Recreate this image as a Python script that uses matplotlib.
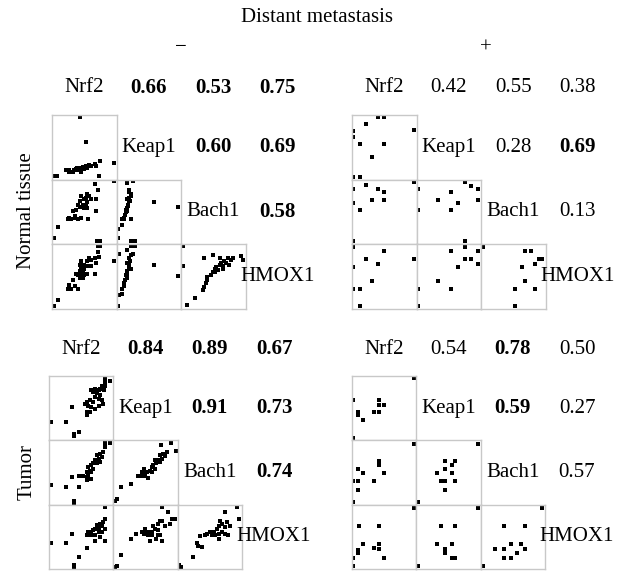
import matplotlib.pyplot as plt

genes = ["Nrf2", "Keap1", "Bach1", "HMOX1"]

# Spearman-type coefficients, upper triangle (row by row)
r_normal_neg = [[0.66, 0.53, 0.75], [0.60, 0.69], [0.58]]
r_normal_pos = [[0.42, 0.55, 0.38], [0.28, 0.69], [0.13]]
r_tumor_neg = [[0.84, 0.89, 0.67], [0.91, 0.73], [0.74]]
r_tumor_pos = [[0.54, 0.78, 0.50], [0.59, 0.27], [0.57]]

# significant coefficients shown in bold
sig_normal_neg = [[1, 1, 1], [1, 1], [1]]
sig_normal_pos = [[0, 0, 0], [0, 1], [0]]
sig_tumor_neg = [[1, 1, 1], [1, 1], [1]]
sig_tumor_pos = [[0, 1, 0], [1, 0], [0]]

# scatter values, rescaled to 0..1 per gene (x = column gene, y = row gene)
nn_keap1_nrf2 = [(.44, .97), (.53, .58), (.96, .26), (.74, .28), (.73, .06), (.03, .05), (.07, .05),
                 (.22, .14), (.26, .12), (.30, .12), (.32, .12), (.34, .14), (.37, .16), (.40, .14),
                 (.43, .18), (.45, .16), (.45, .12), (.48, .19), (.50, .17), (.53, .21), (.55, .18),
                 (.58, .23), (.61, .21), (.66, .24), (.68, .21), (.39, .18), (.27, .14)]
nn_bach1_nrf2 = [(.96, .97), (.66, .93), (.71, .84), (.55, .77), (.45, .74), (.53, .72), (.58, .74),
                 (.50, .70), (.61, .70), (.68, .70), (.43, .66), (.55, .65), (.40, .61), (.48, .61),
                 (.53, .60), (.43, .58), (.50, .56), (.55, .56), (.68, .51), (.32, .51), (.37, .53),
                 (.27, .41), (.25, .38), (.30, .39), (.35, .40), (.40, .39), (.45, .41), (.35, .44),
                 (.56, .39), (.09, .27), (.03, .10), (.70, .04), (.74, .04)]
nn_bach1_keap1 = [(.17, .95), (.25, .97), (.20, .84), (.22, .77), (.20, .71), (.17, .69), (.21, .66),
                  (.18, .61), (.16, .56), (.15, .53), (.17, .51), (.13, .45), (.11, .41), (.09, .38),
                  (.12, .39), (.08, .30), (.22, .39), (.03, .24), (.58, .65), (.95, .58), (.03, .10),
                  (.22, .05), (.28, .04), (.19, .81), (.22, .74), (.20, .66), (.18, .59), (.15, .49)]
nn_hmox1_nrf2 = [(.96, .74), (.71, .88), (.73, .80), (.66, .78), (.58, .79), (.55, .74), (.61, .75),
                 (.68, .70), (.45, .74), (.43, .68), (.50, .67), (.55, .66), (.61, .66), (.45, .63),
                 (.50, .61), (.37, .54), (.43, .58), (.48, .58), (.40, .52), (.45, .52), (.50, .52),
                 (.43, .48), (.48, .47), (.66, .53), (.55, .54), (.32, .44), (.27, .36), (.25, .31),
                 (.30, .31), (.40, .31), (.35, .35), (.09, .13), (.03, .04), (.71, .97), (.74, .97)]
nn_hmox1_keap1 = [(.04, .85), (.17, .91), (.22, .83), (.20, .78), (.21, .73), (.17, .70), (.20, .67),
                  (.19, .62), (.16, .58), (.17, .54), (.15, .52), (.16, .47), (.13, .44), (.12, .39),
                  (.11, .35), (.09, .31), (.08, .23), (.04, .21), (.03, .04), (.58, .68), (.95, .51),
                  (.28, .97), (.25, .85), (.22, .62), (.22, .97)]
nn_hmox1_bach1 = [(.03, .97), (.03, .66), (.10, .05), (.21, .16), (.34, .28), (.36, .34), (.39, .39),
                  (.40, .44), (.41, .49), (.47, .52), (.49, .57), (.52, .62), (.54, .65), (.57, .60),
                  (.60, .67), (.62, .70), (.65, .66), (.67, .73), (.70, .70), (.73, .78), (.75, .67),
                  (.78, .75), (.80, .78), (.49, .83), (.36, .79), (.60, .78), (.93, .82), (.96, .75),
                  (.65, .62), (.52, .57)]

np_keap1_nrf2 = [(.41, .97), (.49, .97), (.21, .86), (.02, .75), (.96, .76), (.02, .66), (.125, .55),
                 (.49, .55), (.31, .35), (.02, .04), (.125, .04)]
np_bach1_nrf2 = [(.96, .96), (.02, .85), (.21, .91), (.41, .85), (.49, .80), (.31, .68), (.49, .68),
                 (.02, .64), (.125, .52), (.02, .04)]
np_bach1_keap1 = [(.03, .85), (.75, .96), (.85, .90), (.96, .85), (.54, .80), (.34, .68), (.65, .64),
                  (.96, .68), (.54, .52), (.03, .52), (.75, .04)]
np_hmox1_nrf2 = [(.02, .96), (.49, .89), (.21, .76), (.96, .76), (.41, .69), (.02, .64), (.31, .43),
                 (.02, .30), (.125, .30), (.125, .04)]
np_hmox1_keap1 = [(.75, .96), (.54, .89), (.96, .89), (.75, .76), (.85, .76), (.96, .69), (.65, .64),
                  (.34, .43), (.03, .30), (.54, .30), (.03, .04)]
np_hmox1_bach1 = [(.03, .96), (.68, .89), (.78, .89), (.90, .76), (.95, .76), (.84, .69), (.63, .64),
                  (.68, .43), (.52, .30), (.84, .30), (.52, .04)]

tn_keap1_nrf2 = [(.95, .93), (.87, .97), (.87, .91), (.87, .84), (.86, .79), (.82, .85), (.79, .80),
                 (.77, .78), (.72, .80), (.69, .75), (.66, .78), (.74, .73), (.79, .70), (.72, .67),
                 (.77, .65), (.82, .62), (.84, .57), (.69, .60), (.64, .62), (.59, .60), (.56, .57),
                 (.61, .54), (.66, .52), (.72, .49), (.77, .54), (.59, .44), (.59, .39), (.64, .44),
                 (.35, .52), (.03, .28), (.27, .28), (.46, .13), (.39, .07), (.39, .10)]
tn_bach1_nrf2 = [(.87, .96), (.95, .96), (.87, .90), (.84, .82), (.79, .79), (.74, .77), (.82, .74),
                 (.77, .71), (.72, .69), (.79, .66), (.74, .64), (.69, .64), (.66, .61), (.61, .58),
                 (.69, .56), (.64, .53), (.59, .51), (.66, .51), (.61, .45), (.59, .43), (.66, .40),
                 (.59, .39), (.53, .45), (.46, .45), (.35, .43), (.03, .31), (.27, .27), (.46, .27),
                 (.39, .06), (.39, .03)]
tn_bach1_keap1 = [(.90, .96), (.74, .93), (.97, .83), (.83, .82), (.78, .79), (.73, .77), (.80, .76),
                  (.75, .71), (.70, .70), (.65, .69), (.73, .66), (.67, .64), (.62, .62), (.60, .58),
                  (.65, .56), (.57, .53), (.60, .51), (.52, .51), (.49, .45), (.44, .44), (.41, .45),
                  (.44, .51), (.54, .41), (.39, .45), (.28, .32), (.12, .27), (.05, .09), (.03, .05),
                  (.47, .55), (.47, .49)]
tn_hmox1_nrf2 = [(.87, .96), (.87, .78), (.84, .73), (.79, .70), (.74, .68), (.82, .66), (.77, .63),
                 (.72, .62), (.69, .60), (.64, .58), (.66, .54), (.61, .57), (.59, .52), (.66, .52),
                 (.72, .53), (.77, .57), (.82, .58), (.79, .49), (.72, .44), (.87, .44), (.59, .32),
                 (.35, .54), (.03, .41), (.27, .41), (.46, .18), (.39, .06), (.39, .03), (.87, .62),
                 (.74, .66)]
tn_hmox1_keap1 = [(.75, .96), (.85, .89), (.73, .75), (.75, .75), (.91, .78), (.96, .78), (.70, .70),
                  (.62, .67), (.80, .66), (.65, .62), (.70, .60), (.60, .58), (.54, .57), (.49, .56),
                  (.47, .54), (.54, .53), (.60, .52), (.70, .52), (.67, .47), (.75, .44), (.57, .44),
                  (.73, .52), (.88, .70), (.44, .58), (.36, .54), (.28, .47), (.12, .21), (.05, .05),
                  (.03, .03), (.49, .62)]
tn_hmox1_bach1 = [(.92, .96), (.74, .89), (.95, .78), (.77, .73), (.66, .75), (.69, .70), (.64, .67),
                  (.82, .67), (.74, .65), (.61, .62), (.56, .58), (.51, .57), (.45, .54), (.53, .53),
                  (.58, .52), (.64, .54), (.69, .57), (.74, .54), (.79, .52), (.43, .52), (.35, .51),
                  (.30, .41), (.32, .36), (.38, .34), (.24, .18), (.02, .06), (.05, .03), (.64, .47)]

tp_keap1_nrf2 = [(.96, .97), (.02, .62), (.42, .62), (.42, .55), (.49, .55), (.09, .44), (.09, .39),
                 (.34, .44), (.42, .44), (.17, .32), (.02, .04)]
tp_bach1_nrf2 = [(.96, .95), (.42, .68), (.42, .62), (.09, .56), (.17, .49), (.49, .49), (.02, .36),
                 (.09, .36), (.34, .36), (.09, .22), (.02, .04)]
tp_bach1_keap1 = [(.96, .95), (.44, .68), (.60, .68), (.55, .62), (.44, .56), (.32, .49), (.55, .49),
                  (.38, .36), (.44, .36), (.60, .36), (.44, .22), (.03, .04)]
tp_hmox1_nrf2 = [(.96, .95), (.11, .66), (.42, .66), (.17, .38), (.09, .30), (.09, .24), (.34, .33),
                 (.42, .38), (.42, .31), (.49, .17), (.02, .17), (.02, .04)]
tp_hmox1_keap1 = [(.96, .95), (.38, .66), (.60, .66), (.32, .38), (.44, .31), (.55, .38), (.44, .24),
                  (.55, .17), (.60, .17), (.03, .04)]
tp_hmox1_bach1 = [(.95, .95), (.36, .66), (.69, .66), (.22, .31), (.36, .31), (.48, .38), (.63, .38),
                  (.69, .31), (.56, .24), (.36, .17), (.48, .17), (.03, .04)]

W, H = 634, 583
fig = plt.figure(figsize=(W / 100, H / 100), dpi=100)
plt.rcParams['font.family'] = ['Liberation Serif', 'DejaVu Serif']
FS = 15


def px_text(x, y, s, **kw):
    fig.text(x / W, 1 - y / H, s, ha='center', va='center', fontsize=FS, **kw)


def draw_panel(x0, y0, size, coefs, sig, cells):
    # diagonal gene names
    for i, g in enumerate(genes):
        cy = y0 - 27 if i == 0 else y0 + (i - 0.5) * size
        px_text(x0 + (i + 0.5) * size, cy, g)
    # upper triangle coefficients
    for i in range(3):
        cy = y0 - 27 if i == 0 else y0 + (i - 0.5) * size
        for k, v in enumerate(coefs[i]):
            j = i + 1 + k
            px_text(x0 + (j + 0.5) * size, cy, "%.2f" % v,
                    fontweight='bold' if sig[i][k] else 'normal')
    # lower triangle scatter plots
    for (i, j), pts in cells.items():
        left = x0 + j * size
        bottom = y0 + i * size
        ax = fig.add_axes([left / W, 1 - bottom / H, size / W, size / H])
        xs = [p[0] for p in pts]
        ys = [p[1] for p in pts]
        ax.plot(xs, ys, 's', ms=2.4, color='black', mew=0)
        ax.set_xlim(0, 1)
        ax.set_ylim(0, 1)
        ax.set_xticks([])
        ax.set_yticks([])
        for sp in ax.spines.values():
            sp.set_color('#c8c8c8')
            sp.set_linewidth(1.0)


draw_panel(52, 115, 64.5, r_normal_neg, sig_normal_neg,
           {(1, 0): nn_keap1_nrf2, (2, 0): nn_bach1_nrf2, (2, 1): nn_bach1_keap1,
            (3, 0): nn_hmox1_nrf2, (3, 1): nn_hmox1_keap1, (3, 2): nn_hmox1_bach1})
draw_panel(352, 115, 64.5, r_normal_pos, sig_normal_pos,
           {(1, 0): np_keap1_nrf2, (2, 0): np_bach1_nrf2, (2, 1): np_bach1_keap1,
            (3, 0): np_hmox1_nrf2, (3, 1): np_hmox1_keap1, (3, 2): np_hmox1_bach1})
draw_panel(49, 376, 64.3, r_tumor_neg, sig_tumor_neg,
           {(1, 0): tn_keap1_nrf2, (2, 0): tn_bach1_nrf2, (2, 1): tn_bach1_keap1,
            (3, 0): tn_hmox1_nrf2, (3, 1): tn_hmox1_keap1, (3, 2): tn_hmox1_bach1})
draw_panel(352, 376, 64.3, r_tumor_pos, sig_tumor_pos,
           {(1, 0): tp_keap1_nrf2, (2, 0): tp_bach1_nrf2, (2, 1): tp_bach1_keap1,
            (3, 0): tp_hmox1_nrf2, (3, 1): tp_hmox1_keap1, (3, 2): tp_hmox1_bach1})

px_text(317, 17, "Distant metastasis")
px_text(181, 48, "\u2212")
px_text(486, 48, "+")
px_text(27, 211, "Normal tissue", rotation=90)
px_text(27, 472, "Tumor", rotation=90)

fig.savefig("out.png", dpi=100)
